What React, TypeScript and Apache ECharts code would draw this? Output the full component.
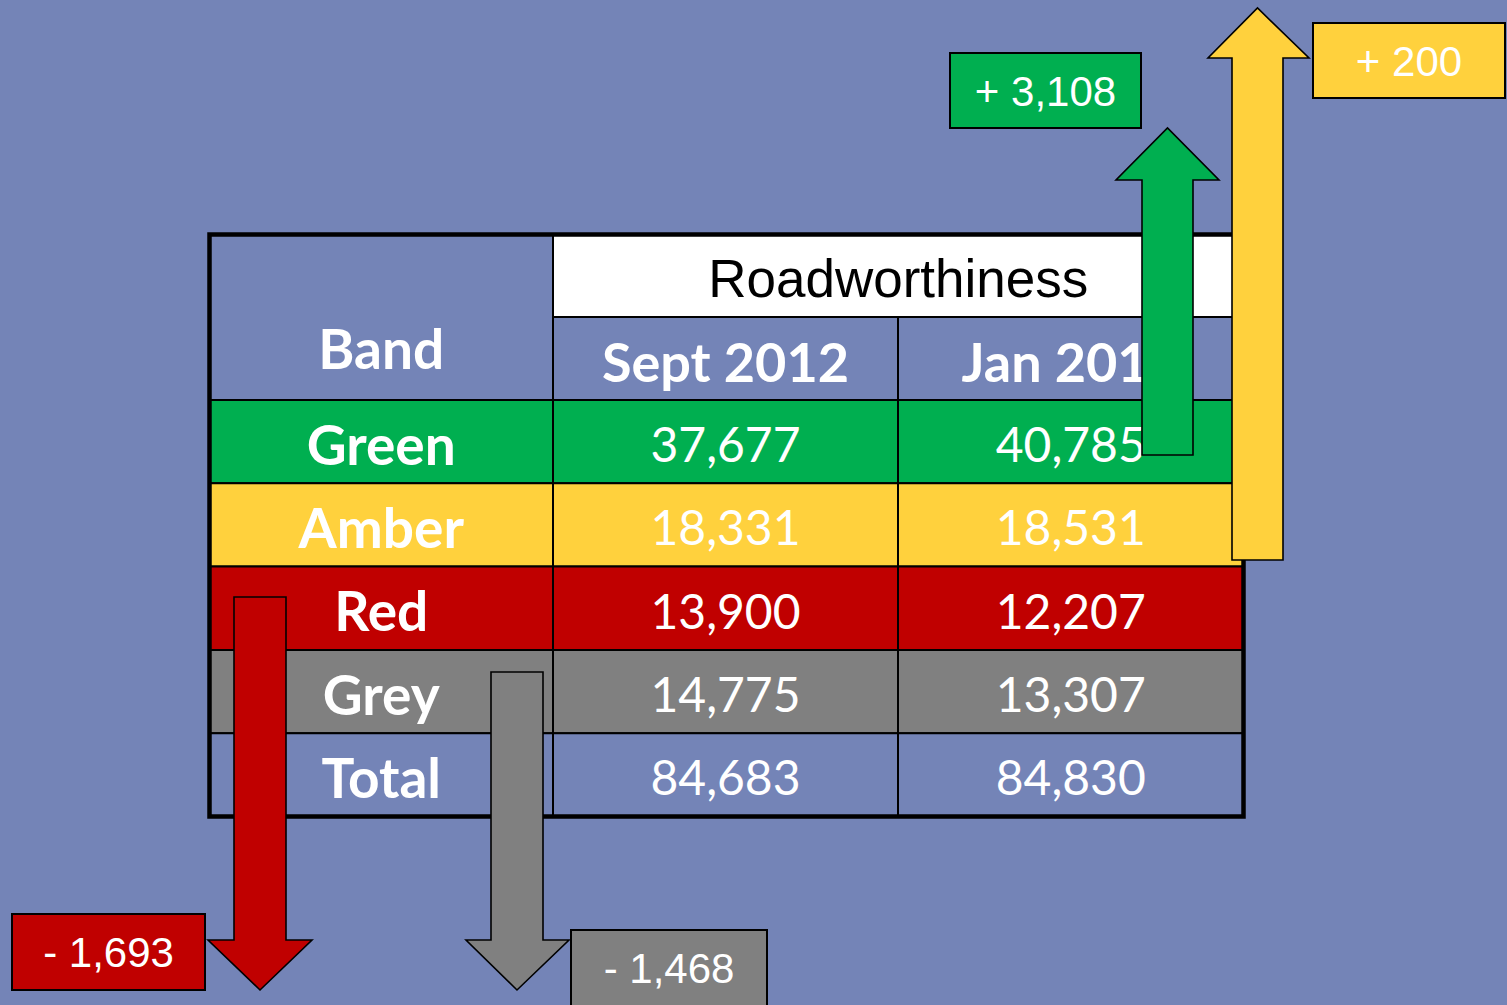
import React, { useEffect, useRef } from "react";
import * as echarts from "echarts";

// ---- data ----
const bands = ["Green", "Amber", "Red", "Grey", "Total"];
const periods = ["Sept 2012", "Jan 2013"];
const sept2012 = [37677, 18331, 13900, 14775, 84683];
const jan2013 = [40785, 18531, 12207, 13307, 84830];
const title = "Roadworthiness";
const headerBand = "Band";

// ---- styles ----
const BG = "#7484B7";
const rowColors = ["#00AF50", "#FFD13D", "#C00000", "#808080", BG];
const LABEL_FONT = "Lato, 'Gill Sans', 'DejaVu Sans', sans-serif";
const ARIAL = "'Liberation Sans', Arial, sans-serif";

// ---- layout ----
const tL = 209.5, tR = 1243.5, tT = 234.5, tB = 816.5;
const c1 = 553, c2 = 898;
const hMid = 317, rowTop = 400;
const rowH = (tB - rowTop) / bands.length;

// arrow layouts for bands 0..3 (direction decided by sign of change)
const arrowLayout = [
  { sL: 1142, sR: 1193, end: 455, base: 180, hL: 1116, hR: 1219, tip: 128, box: [950, 53, 191, 75] },
  { sL: 1232, sR: 1283, end: 560, base: 58, hL: 1208, hR: 1309, tip: 8, box: [1313, 23, 192, 75] },
  { sL: 234, sR: 286, end: 597, base: 940, hL: 208, hR: 312, tip: 990, box: [12, 914, 193, 76] },
  { sL: 491, sR: 543, end: 672, base: 940, hL: 466, hR: 569, tip: 990, box: [571, 930, 196, 80] },
];

const fmt = (v: number) => v.toLocaleString("en-US");

function buildGraphic() {
  const els: any[] = [];
  const cellText = (x: number, y: number, text: string, bold: boolean, size: number, font = LABEL_FONT, fill = "#fff") => ({
    type: "text",
    x,
    y,
    style: {
      text,
      fill,
      font: `${bold ? "bold " : ""}${size}px ${font}`,
      textAlign: "center",
      textVerticalAlign: "middle",
    },
  });
  const rect = (x: number, y: number, w: number, h: number, fill: string, lw = 2) => ({
    type: "rect",
    shape: { x, y, width: w, height: h },
    style: { fill, stroke: "#000", lineWidth: lw },
  });

  // header cells
  els.push(rect(tL, tT, c1 - tL, rowTop - tT, BG));
  els.push(rect(c1, tT, tR - c1, hMid - tT, "#fff"));
  els.push(rect(c1, hMid, c2 - c1, rowTop - hMid, BG));
  els.push(rect(c2, hMid, tR - c2, rowTop - hMid, BG));
  els.push(cellText((tL + c1) / 2, 348, headerBand, true, 55));
  els.push(cellText((c1 + tR) / 2, 278, title, false, 53, ARIAL, "#000"));
  els.push(cellText((c1 + c2) / 2, 361, periods[0], true, 54));
  els.push(cellText((c2 + tR) / 2, 361, periods[1], true, 54));

  // rows
  bands.forEach((b, i) => {
    const y = rowTop + i * rowH;
    const fill = rowColors[i];
    els.push(rect(tL, y, c1 - tL, rowH, fill));
    els.push(rect(c1, y, c2 - c1, rowH, fill));
    els.push(rect(c2, y, tR - c2, rowH, fill));
    const cy = y + rowH / 2 + 2;
    els.push(cellText((tL + c1) / 2, cy, b, true, 55));
    els.push(cellText((c1 + c2) / 2, cy, fmt(sept2012[i]), false, 48));
    els.push(cellText((c2 + tR) / 2, cy, fmt(jan2013[i]), false, 48));
  });

  // outer border
  els.push({
    type: "rect",
    shape: { x: tL, y: tT, width: tR - tL, height: tB - tT },
    style: { fill: "none", stroke: "#000", lineWidth: 4.5 },
  });

  // arrows and change boxes
  arrowLayout.forEach((a, i) => {
    const change = jan2013[i] - sept2012[i];
    const cx = (a.sL + a.sR) / 2;
    const pts = [
      [a.sL, a.end],
      [a.sL, a.base],
      [a.hL, a.base],
      [cx, a.tip],
      [a.hR, a.base],
      [a.sR, a.base],
      [a.sR, a.end],
    ];
    els.push({
      type: "polygon",
      shape: { points: pts },
      style: { fill: rowColors[i], stroke: "#000", lineWidth: 1.6 },
    });
    const [bx, by, bw, bh] = a.box;
    els.push(rect(bx, by, bw, bh, rowColors[i], 2));
    const label = (change >= 0 ? "+ " : "- ") + fmt(Math.abs(change));
    els.push(cellText(bx + bw / 2, by + 38, label, false, 42, ARIAL));
  });

  return els;
}

export default function App() {
  const ref = useRef<HTMLDivElement>(null);
  useEffect(() => {
    document.body.style.margin = "0";
    if (!ref.current) return;
    const chart = echarts.init(ref.current, null, { renderer: "svg" });
    chart.setOption({
      animation: false,
      backgroundColor: BG,
      graphic: buildGraphic(),
    });
    return () => chart.dispose();
  }, []);
  return <div ref={ref} style={{ position: "absolute", left: 0, top: 0, width: 1507, height: 1005 }} />;
}
